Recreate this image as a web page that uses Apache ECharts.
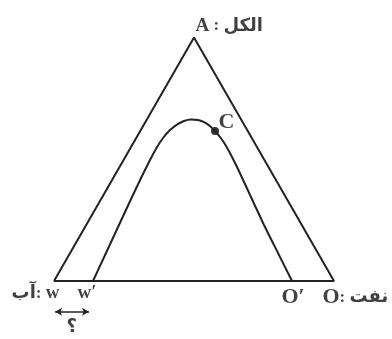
<!DOCTYPE html>
<html>
<head>
<meta charset="utf-8">
<script src="https://cdn.jsdelivr.net/npm/echarts@6/dist/echarts.min.js"></script>
<style>
html, body { margin: 0; padding: 0; background: #fff; }
#main { width: 392px; height: 339px; }
</style>
</head>
<body>
<div id="main"></div>
<script>
// triangle W -> A -> O -> W (base 0..100, equilateral height)
const triX = [0, 50, 100, 0];
const triY = [0, 87, 0, 0];

// inner curve from W' up through C down to O'
const curveX = [13.93, 18.57, 23.21, 27.86, 31.61, 34.29, 36.61, 38.93, 41.43, 43.93, 46.43, 48.93,
    51.43, 53.93, 55.89, 57.5, 59.29, 61.25, 63.21, 65.54, 70.18, 75.0, 80.0, 85.0];
const curveY = [0, 10, 20, 30, 37.86, 43.21, 47.5, 51.07, 53.93, 55.86, 57.14, 57.68,
    57.5, 56.6, 55.2, 53.57, 51.43, 48.57, 45.0, 40.36, 30.36, 20, 10, 0];

const pointC = [57.5, 53.57];

// double arrow between W and W'
const arrowX = [0.4, 12.5];
const arrowY = -11;

// pixel scale: 2.8 px per unit, W sits at (54, 281)
const PX = 2.8, ORX = 54, ORY = 281, W = 392, H = 339;

const serif = "Liberation Serif";
const arab = "DejaVu Sans";

const chart = echarts.init(document.getElementById("main"), null, { renderer: "canvas" });

function zip(xs, ys) {
    return xs.map((x, i) => [x, ys[i]]);
}

function labelSeries(pos, offset, align, text, rich) {
    return {
        type: "scatter",
        data: [pos],
        symbolSize: 1,
        itemStyle: { color: "transparent" },
        silent: true,
        label: {
            show: true,
            position: offset,
            align: align,
            verticalAlign: "middle",
            formatter: text,
            rich: rich
        }
    };
}

const richText = {
    en: { fontFamily: serif, fontWeight: "bold", fontSize: 19, color: "#111" },
    big: { fontFamily: serif, fontWeight: "bold", fontSize: 22, color: "#111" },
    c: { fontFamily: serif, fontWeight: "bold", fontSize: 17, color: "#111" },
    ar: { fontFamily: arab, fontWeight: "bold", fontSize: 18, color: "#111" }
};

const option = {
    animation: false,
    backgroundColor: "#fff",
    grid: { left: 0, right: 0, top: 0, bottom: 0 },
    xAxis: {
        type: "value",
        min: -ORX / PX,
        max: (W - ORX) / PX,
        show: false
    },
    yAxis: {
        type: "value",
        min: (ORY - H) / PX,
        max: ORY / PX,
        show: false
    },
    series: [
        {
            type: "line",
            data: zip(triX, triY),
            symbol: "none",
            lineStyle: { color: "#222", width: 2 },
            silent: true
        },
        {
            type: "line",
            data: zip(curveX, curveY),
            symbol: "none",
            smooth: 0.2,
            lineStyle: { color: "#222", width: 2 },
            silent: true
        },
        {
            type: "scatter",
            data: [pointC],
            symbolSize: 8,
            itemStyle: { color: "#000" },
            silent: true,
            markLine: {
                silent: true,
                symbol: ["arrow", "arrow"],
                symbolSize: [6, 7],
                label: { show: false },
                lineStyle: { color: "#222", width: 1.5, type: "solid" },
                data: [[{ coord: [arrowX[0], arrowY] }, { coord: [arrowX[1], arrowY] }]]
            }
        },
        labelSeries(pointC, [4, -8], "left", "{big|C}", richText),
        labelSeries([triX[1], triY[1]], [2, -11], "left", "{en|A}{c| : }{ar|الكل}", richText),
        labelSeries([triX[0], triY[0]], [6, 13], "right", "{ar|آب}{c|: }{en|w}", richText),
        labelSeries([curveX[0], curveY[0]], [-15, 13], "left", "{en|w′}", richText),
        labelSeries([curveX[curveX.length - 1], curveY[curveY.length - 1]], [-10, 17], "left", "{big|O′}", richText),
        labelSeries([triX[2], triY[2]], [-11, 17], "left", "{big|O}{c|: }{ar|نفت}", richText),
        labelSeries([(arrowX[0] + arrowX[1]) / 2, arrowY], [-5, 16], "left", "{ar|؟}", richText)
    ]
};

chart.setOption(option);
</script>
</body>
</html>
